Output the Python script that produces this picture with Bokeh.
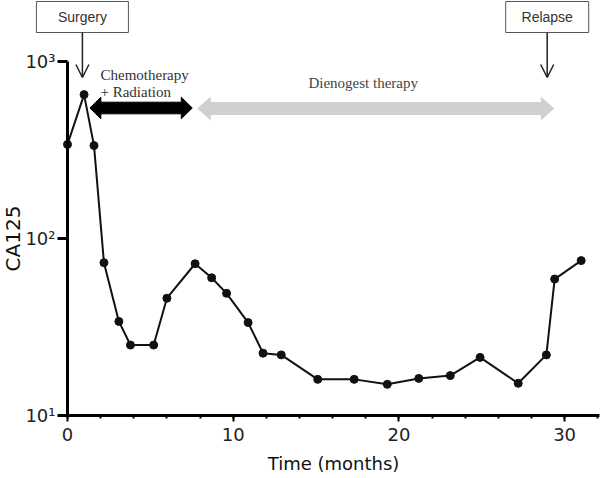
from bokeh.plotting import figure
from bokeh.models import (Range1d, LinearScale, FixedTicker, SingleIntervalTicker, Arrow, OpenHead)
from bokeh.core.properties import value
from bokeh.embed import file_html
from bokeh.resources import INLINE

# ---- data ----
months = [0.0, 1.0, 1.6, 2.2, 3.1, 3.8, 5.2, 6.0, 7.7, 8.7, 9.6, 10.9, 11.8, 12.9,
          15.1, 17.3, 19.3, 21.2, 23.1, 24.9, 27.2, 28.9, 29.4, 31.0]
ca125 = [340, 650, 335, 73, 34, 25, 25, 46, 72, 60, 49, 33.5, 22.5, 22,
         16, 16, 15, 16.2, 16.8, 21.3, 15.2, 22, 59, 75]

y_ticks = [10, 100, 1000]
y_tick_labels = ["10\u00b9", "10\u00b2", "10\u00b3"]

event_names = ["Surgery", "Relapse"]
event_months = [0.9, 28.95]

period_names = ["Chemotherapy", "Dienogest   therapy"]
period_starts = [1.35, 7.86]
period_ends = [7.53, 29.35]

# ---- layout ----
W, H = 600, 478
PX_PER_MONTH = 16.57
PX_PER_DECADE = 177.0
AXIS_X_PX = 67      # where month 0 sits
AXIS_Y_PX = 415     # where CA125 = 10 sits
X_START = -AXIS_X_PX / PX_PER_MONTH
X_END = X_START + W / PX_PER_MONTH
Y_BOTTOM = 10 ** (1 - (H - AXIS_Y_PX) / PX_PER_DECADE)
Y_TOP = 10 ** (1 + AXIS_Y_PX / PX_PER_DECADE)

p = figure(width=W, height=H, x_range=Range1d(X_START, X_END),
           y_range=Range1d(Y_BOTTOM, Y_TOP), y_axis_type="log",
           output_backend="svg", toolbar_location=None,
           min_border_left=0, min_border_right=0,
           min_border_top=0, min_border_bottom=0)
p.extra_y_ranges = {"ann": Range1d(start=H, end=0)}  # y = pixels from top
p.extra_y_scales = {"ann": LinearScale()}
p.outline_line_color = None
p.xgrid.visible = False
p.ygrid.visible = False
p.background_fill_color = "white"
p.border_fill_color = "white"

# x axis
xa = p.xaxis[0]
xa.fixed_location = 10
xa.ticker = SingleIntervalTicker(interval=10, num_minor_ticks=5)
xa.bounds = (0, 32.1)
xa.axis_line_width = 3
xa.axis_line_color = "black"
xa.major_tick_line_width = 2
xa.major_tick_out = 6
xa.major_tick_in = 0
xa.minor_tick_line_width = 2
xa.minor_tick_out = 3
xa.minor_tick_in = 0
xa.major_label_text_font = "DejaVu Sans"
xa.major_label_text_font_size = "18px"
xa.major_label_text_color = "#222222"
xa.major_label_standoff = 6
xa.axis_label = "Time (months)"
xa.axis_label_text_font = "DejaVu Sans"
xa.axis_label_text_font_size = "18px"
xa.axis_label_text_font_style = "normal"
xa.axis_label_text_color = "#111111"
xa.axis_label_standoff = 9

# y axis
ya = p.yaxis[0]
ya.fixed_location = 0
ya.bounds = (10, 1000)
ya.ticker = FixedTicker(ticks=y_ticks, minor_ticks=[])
ya.major_label_overrides = {t: l for t, l in zip(y_ticks, y_tick_labels)}
ya.axis_line_width = 3
ya.axis_line_color = "black"
ya.major_tick_line_width = 3
ya.major_tick_out = 10
ya.major_tick_in = 0
ya.minor_tick_out = 0
ya.minor_tick_in = 0
ya.major_label_text_font = "DejaVu Sans"
ya.major_label_text_font_size = "18px"
ya.major_label_text_color = "#222222"
ya.major_label_standoff = 2
ya.axis_label = "CA125"
ya.axis_label_text_font = "DejaVu Sans"
ya.axis_label_text_font_size = "20px"
ya.axis_label_text_font_style = "normal"
ya.axis_label_text_color = "#111111"
ya.axis_label_standoff = -3

# data
p.line(months, ca125, line_color="#111111", line_width=2)
p.scatter(months, ca125, marker="circle", size=8, fill_color="#111111", line_color="#111111")

# event boxes and arrows
box_widths = [92, 83]
BOX_CY, BOX_H, ARROW_TIP = 16.5, 31, 77
p.rect(x=event_months, y=[BOX_CY] * 2, width=box_widths, height=[BOX_H] * 2,
       width_units="screen", height_units="screen", fill_color="white",
       line_color="#555555", line_width=1, y_range_name="ann")
p.text(x=event_months, y=[BOX_CY] * 2, text=event_names, y_range_name="ann",
       text_font=value("Liberation Sans"), text_font_size="14px", text_color="#333333",
       text_align="center", text_baseline="middle")
for m in event_months:
    p.add_layout(Arrow(end=OpenHead(size=13, line_width=1.5, line_color="#222222"),
                       x_start=m, y_start=BOX_CY + BOX_H / 2, x_end=m, y_end=ARROW_TIP,
                       line_width=1.5, line_color="#222222", y_range_name="ann"))

# therapy double arrows
def double_arrow(x0, x1, yc, body, head, head_px):
    hl = head_px / PX_PER_MONTH
    xs = [x0, x0 + hl, x0 + hl, x1 - hl, x1 - hl, x1, x1 - hl, x1 - hl, x0 + hl, x0 + hl]
    ys = [yc, yc - head, yc - body, yc - body, yc - head, yc, yc + head, yc + body, yc + body, yc + head]
    return xs, ys

arrow_styles = [dict(yc=107.5, body=5.8, head=10.8, head_px=11, color="#000000"),
                dict(yc=108, body=6, head=11, head_px=12.5, color="#d0d0d0")]
for s0, s1, st in zip(period_starts, period_ends, arrow_styles):
    xs, ys = double_arrow(s0, s1, st["yc"], st["body"], st["head"], st["head_px"])
    p.patch(xs, ys, fill_color=st["color"], line_color=st["color"], line_width=1,
            line_join="round", y_range_name="ann")

# therapy labels
p.text(x=[1.99, 1.99], y=[74, 91], text=["Chemotherapy", "+ Radiation"], y_range_name="ann",
       text_font=value("Liberation Serif"), text_font_size="15px", text_color="#333333",
       text_align="left", text_baseline="alphabetic")
p.text(x=[18.07], y=[82], text=[period_names[1]], y_range_name="ann",
       text_font=value("Liberation Serif"), text_font_size="15px", text_color="#444444",
       text_align="center", text_baseline="alphabetic")

open("out.html", "w").write(file_html(p, INLINE))
